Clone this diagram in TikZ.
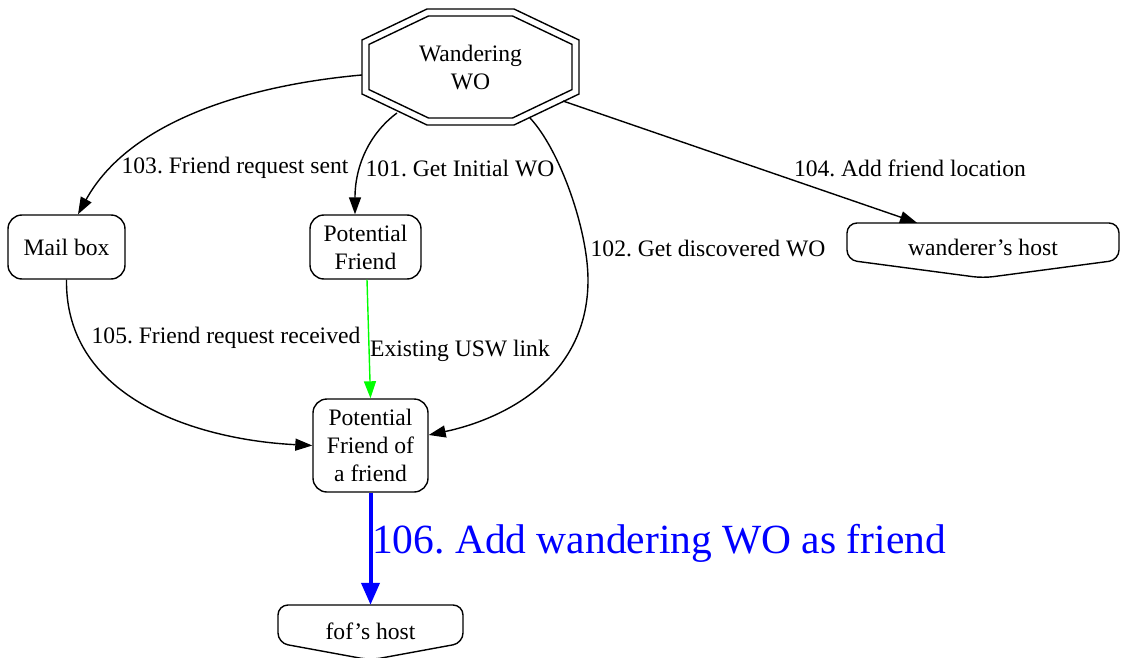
\documentclass[tikz,border=0pt]{standalone}
\usepackage{fontspec}
\setmainfont{Liberation Serif}
\usetikzlibrary{arrows.meta}
\begin{document}
\frenchspacing
\begin{tikzpicture}[x=1pt,y=-1pt,
  every node/.style={font=\fontsize{23.6}{28}\selectfont},
  box/.style={draw,line width=1.4pt,rounded corners=14pt,align=center,inner sep=0pt},
  shapeline/.style={line width=1.4pt},
  edge/.style={line width=1.4pt,-{Triangle[length=17pt,width=12pt]}},
  bigedge/.style={line width=4pt,blue,-{Triangle[length=22pt,width=18pt]}},
  lbl/.style={inner sep=0pt}]
\useasboundingbox (0,0) rectangle (1121,658);

% nodes
\node[align=center,minimum width=217pt,minimum height=116pt,inner sep=0pt] (W) at (470.5,67) {Wandering\\WO};
\draw[shapeline] (427,9) -- (514,9) -- (579,40) -- (579,94) -- (514,125) -- (427,125) -- (362,94) -- (362,40) -- cycle;
\draw[shapeline] (428.5,16) -- (512.5,16) -- (572,44.4) -- (572,89.6) -- (512.5,118) -- (428.5,118) -- (369,89.6) -- (369,44.4) -- cycle;

\node[box,minimum width=117pt,minimum height=64pt] (MB) at (66.5,247) {Mail box};
\node[box,minimum width=111pt,minimum height=64pt] (PF) at (365.5,247) {Potential\\Friend};
\node[box,minimum width=115pt,minimum height=93pt] (FOF) at (370.5,445.5) {Potential\\Friend of\\a friend};

\node[minimum width=272pt,minimum height=48pt,inner sep=0pt] (WH) at (983,247) {wanderer’s host};
\draw[shapeline,rounded corners=10pt] (983,223) -- (1119,223) -- (1119,260) -- (983,278) -- (847,260) -- (847,223) -- cycle;

\node[minimum width=185pt,minimum height=52pt,inner sep=0pt] (FH) at (370.5,631) {fof’s host};
\draw[shapeline,rounded corners=10pt] (370.5,605) -- (463,605) -- (463,643) -- (370.5,660) -- (278,643) -- (278,605) -- cycle;

% edges
\draw[edge] ([yshift=-8pt]W.west) .. controls (250,85) and (130,120) .. ([xshift=11.5pt]MB.north);
\draw[edge] ([shift={(-73.5pt,-46pt)}]W.center) .. controls (370,133) and (355,165) .. ([xshift=-10.5pt]PF.north);
\draw[edge] ([shift={(59.5pt,-51pt)}]W.center) .. controls (560,150) and (588,230) .. (588,280) .. controls (588,380) and (500,420) .. ([yshift=10.5pt]FOF.east);
\draw[edge] ([shift={(92.5pt,-34pt)}]W.center) -- ([xshift=-66pt]WH.north);
\draw[edge] (MB.south) .. controls (65,400) and (200,440) .. (FOF.west);
\draw[edge,green] ([xshift=1.5pt]PF.south) -- (FOF.north);
\draw[bigedge] (FOF.south) -- (FH.north);

% labels
\node[lbl] (L103) at (235,168) {103. Friend request sent};
\node[lbl] (L101) at (460,168) {101. Get Initial WO};
\node[lbl] (L104) at (910,168) {104. Add friend location};
\node[lbl] (L102) at (708,248) {102. Get discovered WO};
\node[lbl] (L105) at (226,338) {105. Friend request received};
\node[lbl] (LUSW) at (460,351) {Existing USW link};
\node[lbl,blue,font=\fontsize{41.5}{48}\selectfont] (L106) at (659,543) {106. Add wandering WO as friend};
\end{tikzpicture}
\end{document}
